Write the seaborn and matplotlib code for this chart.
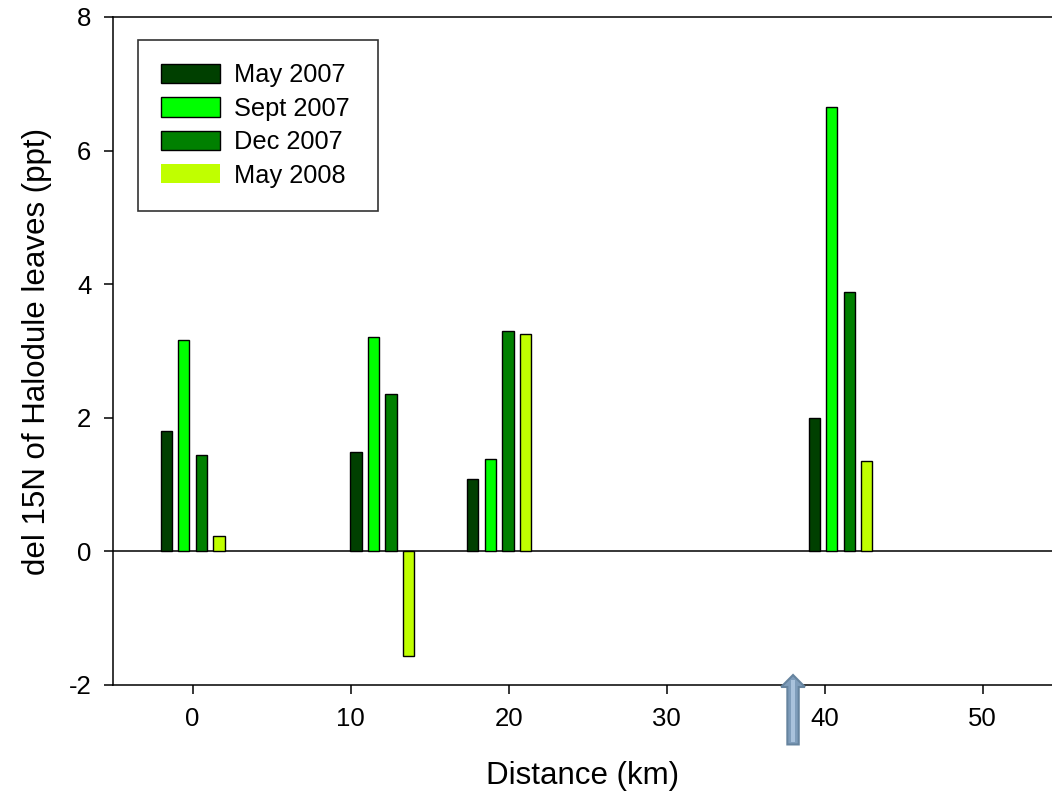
import numpy as np
import pandas as pd
import matplotlib
matplotlib.use("Agg")
import matplotlib.pyplot as plt
from matplotlib.patches import Patch, FancyArrow, Rectangle
import seaborn as sns

# ---- data ----
distance = [0, 12, 19.4, 41]
months = ["May 2007", "Sept 2007", "Dec 2007", "May 2008"]
may2007 = [1.80, 1.49, 1.085, 1.99]
sept2007 = [3.17, 3.21, 1.39, 6.65]
dec2007 = [1.45, 2.35, 3.30, 3.88]
may2008 = [0.235, -1.56, 3.25, 1.35]
colors = ["#004000", "#00ff00", "#008000", "#c0ff00"]
xticks = [0, 10, 20, 30, 40, 50]
yticks = [-2, 0, 2, 4, 6, 8]
arrow_x = 38.0

series = [may2007, sept2007, dec2007, may2008]
df = pd.DataFrame({
    "distance": np.tile(distance, len(months)),
    "value": np.concatenate(series),
    "month": np.repeat(months, len(distance)),
})

sns.set_style("ticks")
plt.rcParams["font.family"] = ["Liberation Sans", "DejaVu Sans"]
plt.rcParams["text.color"] = "black"
plt.rcParams["axes.labelcolor"] = "black"
plt.rcParams["xtick.color"] = "black"
plt.rcParams["ytick.color"] = "black"

fig = plt.figure(figsize=(10.52, 7.94), dpi=100)
ax = fig.add_axes([113 / 1052, 1 - 685 / 794, (1052 - 113) / 1052, (685 - 17) / 794])

ax.axhline(0, color="black", lw=1.1, zorder=1)

sns.barplot(data=df, x="distance", y="value", hue="month", hue_order=months,
            palette=colors, saturation=1, native_scale=True, width=0.6, gap=0.36,
            edgecolor="black", linewidth=1.0, errorbar=None, legend=False,
            ax=ax, zorder=2)

ax.set_xlim(-5.04, 54.39)
ax.set_ylim(-2, 8)
ax.set_xticks(xticks)
ax.set_xticklabels([str(t) for t in xticks])
ax.set_yticks(yticks)
ax.set_yticklabels([str(t) for t in yticks])
ax.tick_params(axis="both", direction="out", length=6.5, width=1.1,
               labelsize=18.5, color="black", labelcolor="black")
ax.tick_params(axis="y", pad=9)
ax.tick_params(axis="x", pad=9)

for s in ["top", "left", "bottom"]:
    ax.spines[s].set_visible(True)
    ax.spines[s].set_color("black")
    ax.spines[s].set_linewidth(1.1)
ax.spines["right"].set_visible(False)

ax.set_xlabel("Distance (km)", fontsize=22.5, labelpad=22, color="black")
ax.set_ylabel("del 15N of Halodule leaves (ppt)", fontsize=22.5, labelpad=12,
              color="black")

handles = [Patch(facecolor=c, edgecolor="black", linewidth=1.0) for c in colors]
handles[3].set_edgecolor("none")
leg = ax.legend(handles, months, loc="upper left",
                bbox_to_anchor=(0.0266, 0.5, 0.2556, 0.4656), mode="expand",
                borderaxespad=0,
                fontsize=18.3, handlelength=2.3, handleheight=0.8,
                labelspacing=0.37, handletextpad=0.55, borderpad=0.92,
                frameon=True, fancybox=False, edgecolor="black")
leg.get_frame().set_linewidth(1.2)
for t in leg.get_texts():
    t.set_color("black")

# arrow below the axis
arr = FancyArrow(arrow_x, -2.89, 0, 1.04, width=0.72, head_width=1.5,
                 head_length=0.18, length_includes_head=True,
                 facecolor="#7f9dbb", edgecolor="#66849f", linewidth=1.5,
                 clip_on=False, zorder=5)
ax.add_patch(arr)
ax.add_patch(Rectangle((arrow_x - 0.12, -2.85), 0.24, 0.92, facecolor="#a9c2dc",
                       edgecolor="none", clip_on=False, zorder=6))

fig.savefig("out.png", dpi=100)
